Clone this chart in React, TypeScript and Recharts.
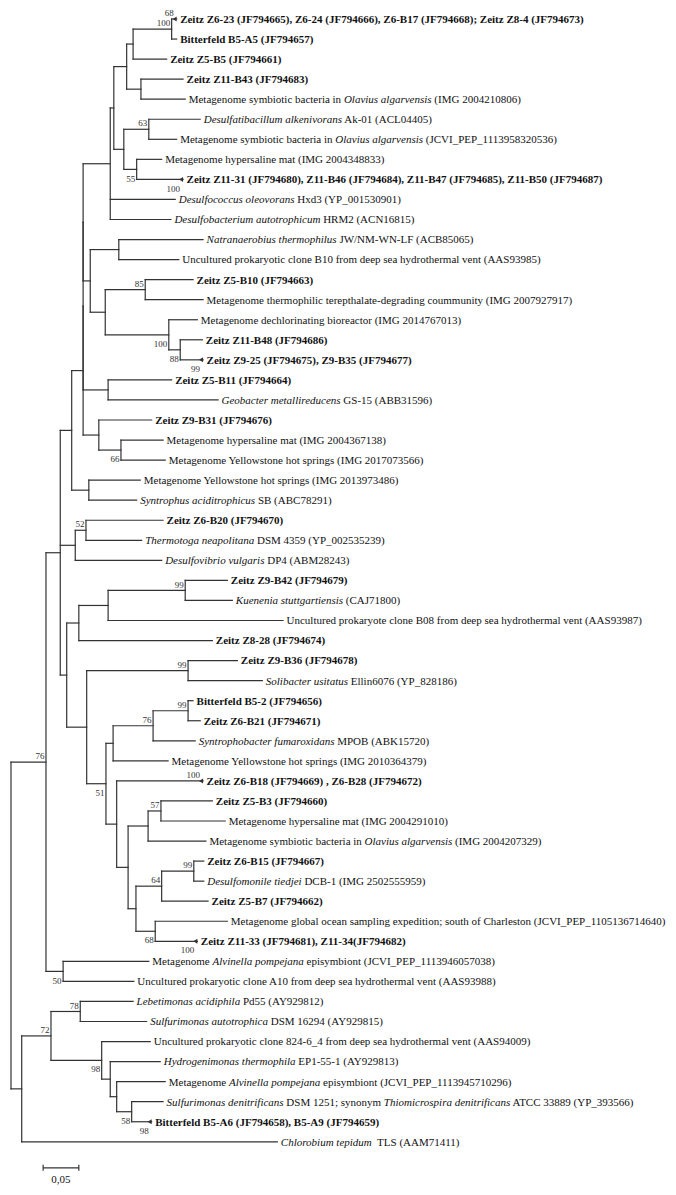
import { ComposedChart, XAxis, YAxis, Scatter, ReferenceLine } from "recharts";

// ─── Tree data ────────────────────────────────────────────────────────────
// Leaves, top to bottom. *text* = italic; Zeitz/Bitterfeld isolates are bold.
const leafNames = [
  "Zeitz Z6-23 (JF794665), Z6-24 (JF794666), Z6-B17 (JF794668); Zeitz Z8-4 (JF794673)",
  "Bitterfeld B5-A5 (JF794657)",
  "Zeitz Z5-B5 (JF794661)",
  "Zeitz Z11-B43 (JF794683)",
  "Metagenome symbiotic bacteria in *Olavius algarvensis* (IMG 2004210806)",
  "*Desulfatibacillum alkenivorans* Ak-01 (ACL04405)",
  "Metagenome symbiotic bacteria in *Olavius algarvensis* (JCVI_PEP_1113958320536)",
  "Metagenome hypersaline mat (IMG 2004348833)",
  "Zeitz Z11-31 (JF794680), Z11-B46 (JF794684), Z11-B47 (JF794685), Z11-B50 (JF794687)",
  "*Desulfococcus oleovorans* Hxd3 (YP_001530901)",
  "*Desulfobacterium autotrophicum* HRM2 (ACN16815)",
  "*Natranaerobius thermophilus* JW/NM-WN-LF (ACB85065)",
  "Uncultured prokaryotic clone B10 from deep sea hydrothermal vent (AAS93985)",
  "Zeitz Z5-B10 (JF794663)",
  "Metagenome thermophilic terepthalate-degrading coummunity (IMG 2007927917)",
  "Metagenome dechlorinating bioreactor (IMG 2014767013)",
  "Zeitz Z11-B48 (JF794686)",
  "Zeitz Z9-25 (JF794675), Z9-B35 (JF794677)",
  "Zeitz Z5-B11 (JF794664)",
  "*Geobacter metallireducens* GS-15 (ABB31596)",
  "Zeitz Z9-B31 (JF794676)",
  "Metagenome hypersaline mat (IMG 2004367138)",
  "Metagenome Yellowstone hot springs (IMG 2017073566)",
  "Metagenome Yellowstone hot springs (IMG 2013973486)",
  "*Syntrophus aciditrophicus* SB (ABC78291)",
  "Zeitz Z6-B20 (JF794670)",
  "*Thermotoga neapolitana* DSM 4359 (YP_002535239)",
  "*Desulfovibrio vulgaris* DP4 (ABM28243)",
  "Zeitz Z9-B42 (JF794679)",
  "*Kuenenia stuttgartiensis* (CAJ71800)",
  "Uncultured prokaryote clone B08 from deep sea hydrothermal vent (AAS93987)",
  "Zeitz Z8-28 (JF794674)",
  "Zeitz Z9-B36 (JF794678)",
  "*Solibacter usitatus* Ellin6076 (YP_828186)",
  "Bitterfeld B5-2 (JF794656)",
  "Zeitz Z6-B21 (JF794671)",
  "*Syntrophobacter fumaroxidans* MPOB (ABK15720)",
  "Metagenome Yellowstone hot springs (IMG 2010364379)",
  "Zeitz Z6-B18 (JF794669) , Z6-B28 (JF794672)",
  "Zeitz Z5-B3 (JF794660)",
  "Metagenome hypersaline mat (IMG 2004291010)",
  "Metagenome symbiotic bacteria in *Olavius algarvensis* (IMG 2004207329)",
  "Zeitz Z6-B15 (JF794667)",
  "*Desulfomonile tiedjei* DCB-1 (IMG 2502555959)",
  "Zeitz Z5-B7 (JF794662)",
  "Metagenome global ocean sampling expedition; south of Charleston (JCVI_PEP_1105136714640)",
  "Zeitz Z11-33 (JF794681), Z11-34(JF794682)",
  "Metagenome *Alvinella pompejana* episymbiont (JCVI_PEP_1113946057038)",
  "Uncultured prokaryotic clone A10 from deep sea hydrothermal vent (AAS93988)",
  "*Lebetimonas acidiphila* Pd55 (AY929812)",
  "*Sulfurimonas autotrophica* DSM 16294 (AY929815)",
  "Uncultured prokaryotic clone 824-6_4 from deep sea hydrothermal vent (AAS94009)",
  "*Hydrogenimonas thermophila* EP1-55-1 (AY929813)",
  "Metagenome *Alvinella pompejana* episymbiont (JCVI_PEP_1113945710296)",
  "*Sulfurimonas denitrificans* DSM 1251; synonym *Thiomicrospira denitrificans* ATCC 33889 (YP_393566)",
  "Bitterfeld B5-A6 (JF794658), B5-A9 (JF794659)",
  "*Chlorobium tepidum*  TLS (AAM71411)",
];

// distance from root of each leaf tip
const leafDepth = [
  0.232, 0.232, 0.218, 0.241, 0.244, 0.265, 0.232, 0.211, 0.241, 0.230,
  0.224, 0.269, 0.235, 0.255, 0.269, 0.261, 0.268, 0.269, 0.225, 0.290,
  0.197, 0.213, 0.216, 0.181, 0.176, 0.213, 0.183, 0.211, 0.303, 0.310,
  0.381, 0.282, 0.317, 0.352, 0.255, 0.265, 0.258, 0.220, 0.269, 0.282,
  0.300, 0.273, 0.270, 0.270, 0.276, 0.303, 0.261, 0.193, 0.172, 0.171,
  0.190, 0.195, 0.209, 0.216, 0.213, 0.197, 0.373,
];

// compressed subtrees (drawn as small triangles)
const collapsedLeaves = [0, 8, 17, 38, 46, 55];

// internal nodes: id, depth, children (t# = leaf index)
const nodeIds = [
  "A", "B", "n141", "E", "n63", "n55", "C", "F", "D", "H", "n85", "n88", "n100", "J", "I",
  "G1", "n108", "G2", "n66", "K", "G3", "M", "L", "N", "O", "n99a", "R1a", "R1", "n99b",
  "n99c", "n76", "n76b", "n57", "dl", "n99d", "n64", "n68", "ep", "gm", "bt", "n51", "R2",
  "R", "P", "n50", "S", "n78", "Zn", "Y", "X", "W", "V", "U", "root",
];
const nodeDepth = [
  0.225, 0.171, 0.182, 0.162, 0.193, 0.176, 0.158, 0.144, 0.139, 0.151, 0.188, 0.237, 0.221, 0.132, 0.111,
  0.101, 0.136, 0.101, 0.154, 0.123, 0.101, 0.109, 0.085, 0.105, 0.090, 0.244, 0.136, 0.095, 0.248,
  0.248, 0.199, 0.143, 0.210, 0.192, 0.256, 0.211, 0.202, 0.175, 0.164, 0.148, 0.133, 0.106,
  0.078, 0.069, 0.073, 0.049, 0.097, 0.169, 0.148, 0.139, 0.127, 0.056, 0.015, 0,
];
const nodeChildren = [
  ["t0", "t1"], ["A", "t2"], ["t3", "t4"], ["B", "n141"], ["t5", "t6"], ["t7", "t8"], ["n63", "n55"],
  ["E", "C"], ["F", "t9", "t10"], ["t11", "t12"], ["t13", "t14"], ["t16", "t17"], ["t15", "n88"],
  ["n85", "n100"], ["H", "J"], ["D", "I"], ["t18", "t19"], ["G1", "n108"], ["t21", "t22"],
  ["t20", "n66"], ["G2", "K"], ["t23", "t24"], ["G3", "M"], ["t25", "t26"], ["N", "t27"],
  ["t28", "t29"], ["n99a", "t30"], ["R1a", "t31"], ["t32", "t33"], ["t34", "t35"], ["n99c", "t36"],
  ["n76", "t37"], ["t39", "t40"], ["n57", "t41"], ["t42", "t43"], ["n99d", "t44"], ["t45", "t46"],
  ["n64", "n68"], ["dl", "ep"], ["t38", "gm"], ["n76b", "bt"], ["n99b", "n51"], ["R1", "R2"],
  ["L", "O", "R"], ["t47", "t48"], ["P", "n50"], ["t49", "t50"], ["t54", "t55"], ["t53", "Zn"],
  ["t52", "Y"], ["t51", "X"], ["n78", "W"], ["V", "t56"], ["S", "U"],
];

// bootstrap support values
const supportAt = [
  "t0", "A", "n63", "n55", "t8", "n85", "n100", "n88", "t17", "n66", "N", "n99a", "n99b", "n99c",
  "n76", "S", "t38", "n51", "n57", "n99d", "n64", "n68", "t46", "n50", "n78", "V", "W", "Zn", "t55",
];
const supportValue = [
  68, 100, 63, 55, 100, 85, 100, 88, 99, 66, 52, 99, 99, 99,
  76, 76, 100, 51, 57, 99, 64, 68, 100, 50, 78, 72, 98, 58, 98,
];
// a = above the branch, b = below
const supportSide = [
  "a", "a", "a", "b", "b", "a", "b", "b", "b", "b", "a", "a", "a", "a",
  "a", "a", "a", "b", "a", "a", "a", "b", "b", "b", "a", "a", "b", "b", "b",
];

const scaleBarLength = 0.05;
const scaleBarLabel = "0,05";

const LINE = "#333";
const TEXT = "#111";
const FONT = "'Liberation Serif', 'Times New Roman', serif";

// ─── Layout (data space: x = distance, y = leaf row) ───────────────────────
const depthOf: Record<string, number> = {};
const kidsOf: Record<string, string[]> = {};
leafDepth.forEach((d, i) => (depthOf["t" + i] = d));
nodeIds.forEach((id, i) => {
  depthOf[id] = nodeDepth[i];
  kidsOf[id] = nodeChildren[i];
});
const rowCache: Record<string, number> = {};
const rowOf = (id: string): number => {
  if (rowCache[id] !== undefined) return rowCache[id];
  const kids = kidsOf[id];
  const r = kids ? (rowOf(kids[0]) + rowOf(kids[kids.length - 1])) / 2 : Number(id.slice(1));
  rowCache[id] = r;
  return r;
};

const segments: { x1: number; y1: number; x2: number; y2: number }[] = [];
nodeIds.forEach((id) => {
  const d = depthOf[id];
  const kids = kidsOf[id];
  segments.push({ x1: d, y1: rowOf(kids[0]), x2: d, y2: rowOf(kids[kids.length - 1]) });
  kids.forEach((k) => segments.push({ x1: d, y1: rowOf(k), x2: depthOf[k], y2: rowOf(k) }));
});

const leafPoints = leafNames.map((name, i) => ({
  x: leafDepth[i],
  y: i,
  name,
  collapsed: collapsedLeaves.includes(i),
}));

const supportPoints = supportAt.map((id, i) => ({
  x: depthOf[id],
  y: rowOf(id),
  v: supportValue[i],
  side: supportSide[i],
  tip: id.startsWith("t"),
}));

// pixel frame: root at x=11, 714 px per unit; first leaf at y=19, 20.05 px per row
const W = 676;
const H = 1195;
const X_DOMAIN = [-11 / 714, (W - 11) / 714];
const Y_DOMAIN = [-19 / 20.05, (H - 19) / 20.05];
const SCALE_X0 = 0.045;
const SCALE_ROW = 57.3;

function LeafLabel(props: any) {
  const { cx, cy, payload } = props;
  const bold = /^(Zeitz|Bitterfeld)/.test(payload.name);
  const parts: string[] = payload.name.split("*");
  return (
    <g>
      {payload.collapsed && (
        <polygon points={`${cx - 4},${cy} ${cx},${cy - 2.5} ${cx},${cy + 2.5}`} fill={LINE} />
      )}
      <text
        x={cx + 3.5}
        y={cy}
        dy="0.35em"
        fontFamily={FONT}
        fontSize={11}
        fontWeight={bold ? 700 : 400}
        fill={TEXT}
        style={{ whiteSpace: "pre" }}
      >
        {parts.map((p, i) => (
          <tspan key={i} fontStyle={i % 2 ? "italic" : "normal"}>
            {p}
          </tspan>
        ))}
      </text>
    </g>
  );
}

function SupportLabel(props: any) {
  const { cx, cy, payload } = props;
  const dx = payload.tip ? -3 : -1.5;
  const dy = payload.side === "a" ? -6 : 9;
  return (
    <text
      x={cx + dx}
      y={cy + dy}
      dy="0.35em"
      textAnchor="end"
      fontFamily={FONT}
      fontSize={9}
      fill="#333"
      style={{ fill: "#333" }}
    >
      {payload.v}
    </text>
  );
}

export default function App() {
  return (
    <div style={{ position: "absolute", left: 0, top: 0, background: "#fff" }}>
      <ComposedChart width={W} height={H} margin={{ top: 0, right: 0, bottom: 0, left: 0 }}>
        <XAxis type="number" dataKey="x" domain={X_DOMAIN} allowDataOverflow hide />
        <YAxis type="number" dataKey="y" domain={Y_DOMAIN} allowDataOverflow reversed hide />

        {/* branches */}
        {segments.map((s, i) => (
          <ReferenceLine
            key={i}
            segment={[
              { x: s.x1, y: s.y1 },
              { x: s.x2, y: s.y2 },
            ]}
            stroke={LINE}
            strokeWidth={1.2}
            strokeLinecap="square"
            ifOverflow="visible"
          />
        ))}

        {/* scale bar */}
        <ReferenceLine
          segment={[
            { x: SCALE_X0, y: SCALE_ROW },
            { x: SCALE_X0 + scaleBarLength, y: SCALE_ROW },
          ]}
          stroke={LINE}
          strokeWidth={1.2}
          ifOverflow="visible"
          label={{ value: scaleBarLabel, position: "bottom", offset: 7, fontSize: 11, fontFamily: FONT, fill: TEXT }}
        />
        {[SCALE_X0, SCALE_X0 + scaleBarLength].map((x) => (
          <ReferenceLine
            key={x}
            segment={[
              { x, y: SCALE_ROW - 0.15 },
              { x, y: SCALE_ROW + 0.15 },
            ]}
            stroke={LINE}
            strokeWidth={1.2}
            ifOverflow="visible"
          />
        ))}

        <Scatter data={leafPoints} shape={LeafLabel} fill={TEXT} isAnimationActive={false} />
        <Scatter data={supportPoints} shape={SupportLabel} fill="#333" isAnimationActive={false} />
      </ComposedChart>
    </div>
  );
}
